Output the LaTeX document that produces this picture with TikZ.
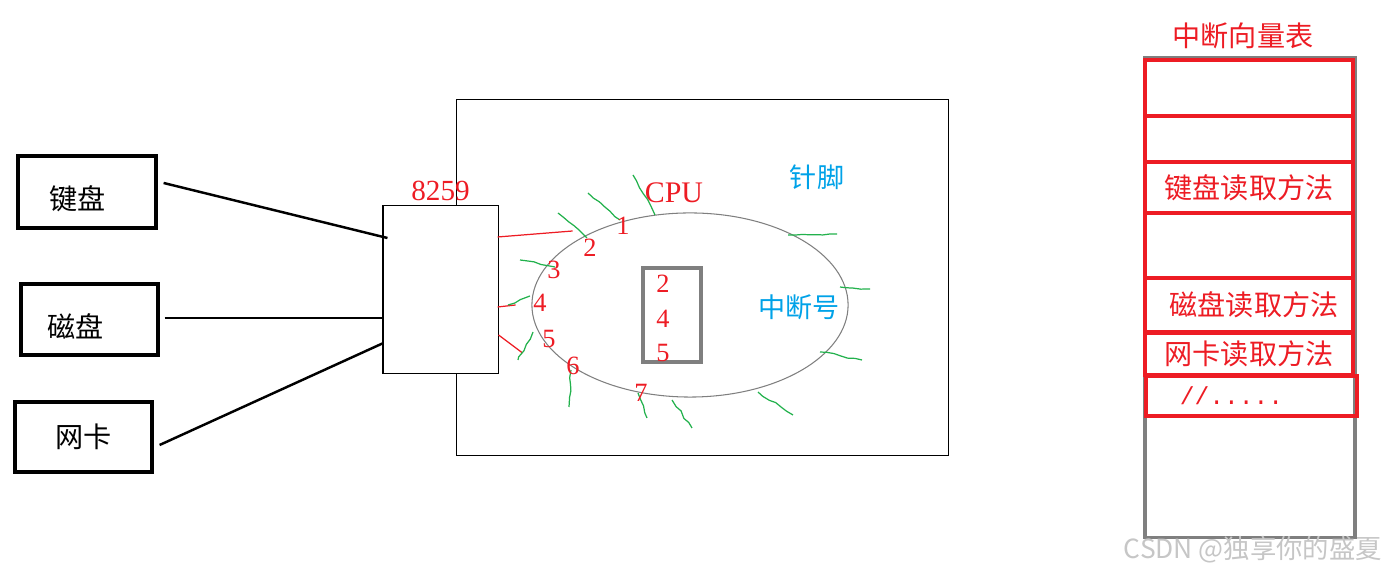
\documentclass[tikz,border=0pt]{standalone}
\usepackage{fontspec}
\setmainfont{Liberation Serif}
\setmonofont{Liberation Mono}
\newfontfamily\cjk{Noto Sans CJK SC}
\usepackage{tikz}
\usetikzlibrary{shapes.geometric,decorations.pathmorphing}
\definecolor{paintred}{RGB}{237,28,36}
\definecolor{paintblue}{RGB}{0,162,232}
\definecolor{paintgreen}{RGB}{34,177,76}
\definecolor{paintgray}{RGB}{127,127,127}
\tikzstyle{device}=[rectangle,draw=black,line width=0.9pt,inner sep=0pt,font=\cjk\fontsize{8}{9}\selectfont]
\tikzstyle{devlabel}=[font=\cjk\fontsize{8}{9}\selectfont]
\tikzstyle{wire}=[line width=0.7pt,draw=black]
\tikzstyle{chip}=[rectangle,draw=black,line width=0.3pt,fill=white,inner sep=0pt]
\tikzstyle{redline}=[draw=paintred,line width=0.35pt]
\tikzstyle{pinline}=[draw=paintgreen,line width=0.35pt,decorate,
                     decoration={random steps,segment length=2pt,amplitude=0.3pt}]
\tikzstyle{pinnum}=[text=paintred,inner sep=0pt,font=\fontsize{7.5}{9}\selectfont]
\tikzstyle{bluetext}=[text=paintblue,inner sep=0pt,font=\cjk\fontsize{7.7}{9}\selectfont]
\tikzstyle{tabrow}=[rectangle,draw=paintred,line width=0.9pt,minimum width=2.08cm,inner sep=0pt,
                    text=paintred,font=\cjk\fontsize{8}{10}\selectfont]

\begin{document}
\pgfmathsetseed{7}
\begin{tikzpicture}[x=0.01cm,y=-0.01cm]
  \useasboundingbox (0,0) rectangle (1388,574);
  % devices
  \node[device,minimum width=1.38cm,minimum height=0.72cm,
        label={[devlabel,xshift=-0.09cm,yshift=-0.07cm]center:键盘}] (kbd) at (87,192) {};
  \node[device,minimum width=1.37cm,minimum height=0.71cm,
        label={[devlabel,xshift=-0.14cm,yshift=-0.07cm]center:磁盘}] (disk) at (89.5,319.5) {};
  \node[device,minimum width=1.37cm,minimum height=0.70cm] (nic) at (83.5,437) {网卡};
  % cpu board and 8259
  \node[rectangle,draw=black,line width=0.3pt,minimum width=4.91cm,minimum height=3.55cm] (board) at (702.5,277.5) {};
  \node[chip,minimum width=1.15cm,minimum height=1.67cm,
        label={[text=paintred,inner sep=1pt,font=\fontsize{8.3}{10}\selectfont]above:8259}] (i8259) at (440.5,289.5) {};
  \draw[wire] ([shift={(6,-9)}]kbd.east) -- ([shift={(5,-51.5)}]i8259.west);
  \draw[wire] ([shift={(5,-1.5)}]disk.east) -- ([shift={(2,28.5)}]i8259.west);
  \draw[wire] ([shift={(6,8)}]nic.east) -- ([shift={(1,53.5)}]i8259.west);
  % cpu
  \node[ellipse,draw=paintgray,line width=0.3pt,minimum width=3.16cm,minimum height=1.84cm,inner sep=0pt] (core) at (690,305) {};
  \node[text=paintred,inner sep=0pt,font=\fontsize{8.5}{10}\selectfont] (cpulbl) at (674,193) {CPU};
  \node[bluetext] (pins) at (817,177) {针脚};
  \node[bluetext] (irq) at (799,307) {中断号};
  \draw[redline] ([shift={(-1,-52.5)}]i8259.east) -- ([shift={(74,-58.5)}]i8259.east);
  \draw[redline] ([shift={(-1,17.5)}]i8259.east) -- ([shift={(17,15.5)}]i8259.east);
  \draw[redline] ([shift={(0,45.5)}]i8259.east) -- ([shift={(24,63.5)}]i8259.east);
  \foreach \xa/\ya/\xb/\yb in {633/175/655/215, 588/193/620/220, 558/213/587/238, 520/260/555/267,
                               508/305/530/296, 533/332/518/360, 571/370/569/407, 638/393/647/418,
                               672/400/692/428, 758/392/793/415, 820/352/862/360, 840/287/870/289,
                               788/235/837/234}
    \draw[pinline] (\xa,\ya) -- (\xb,\yb);
  \foreach \n/\x/\y in {1/623/226, 2/590/248, 3/554/270, 4/540/303, 5/549/339, 6/573/366, 7/641/393}
    \node[pinnum] (p\n) at (\x,\y) {\n};
  \node[rectangle,draw=paintgray,line width=0.9pt,minimum width=0.58cm,minimum height=0.94cm] (ivec) at (672,315) {};
  \foreach \n/\y in {2/284, 4/319, 5/353}
    \node[pinnum] (v\n) at (663,\y) {\n};
  % vector table
  \node[rectangle,draw=paintgray,line width=0.9pt,minimum width=2.10cm,minimum height=4.79cm] (ivt) at (1250,297.5) {};
  \node[text=paintred,font=\cjk\fontsize{8}{10}\selectfont] (ivtlbl) at (1243,36) {中断向量表};
  \foreach \r/\y/\h/\t in {1/88/0.56/, 2/139/0.46/, 3/187.5/0.51/键盘读取方法, 4/245.5/0.65/,
                           5/305/0.54/\hspace*{1mm}磁盘读取方法, 6/354/0.42/网卡读取方法}
    \node[tabrow,minimum height=\h cm] (r\r) at (1249,\y) {\t};
  \node[tabrow,minimum width=2.11cm,minimum height=0.40cm,font=\ttfamily\fontsize{7}{9}\selectfont] (r7) at (1251.5,396) {//.....\hspace*{4mm}};
  \node[text=gray!45,font=\cjk\fontsize{7.5}{9}\selectfont] (mark) at (1253,550) {CSDN @独享你的盛夏};
\end{tikzpicture}
\end{document}
